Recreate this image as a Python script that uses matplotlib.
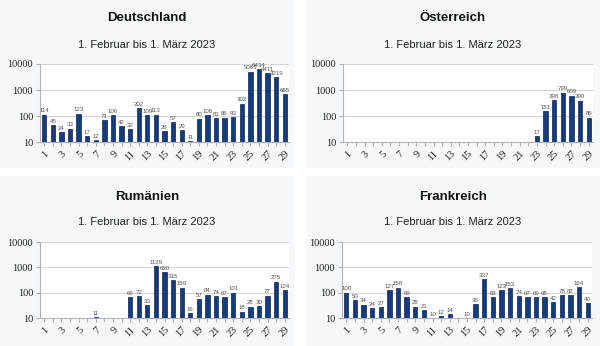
import numpy as np
import matplotlib
matplotlib.use('Agg')
import matplotlib.pyplot as plt
from matplotlib.patches import Rectangle

nan = np.nan
days = np.arange(1, 30)

## Values (nan = no entry)
deutschland = [114, 45, 24, 33, 123, 17, 12, 71, 106, 42, 32, 202, 109, 113, 26,
               57, 29, 11, 80, 108, 81, 86, 93, 302, 5063, 6434, 4411, 3219, 685]
oesterreich = [nan]*22 + [17, 151, 398, 799, 609, 390, 86]
rumaenien = [nan, nan, nan, nan, nan, nan, 11, nan, nan, nan, 69, 72, 33, 1129, 630,
             315, 159, 16, 57, 84, 74, 67, 101, 18, 28, 30, 77, 275, 124]
frankreich = [100, 50, 34, 24, 27, 127, 158, 69, 28, 21, 10, 12, 14, nan, 10,
              36, 337, 66, 123, 153, 74, 67, 69, 68, 42, 78, 82, 164, 40]

titles = ['Deutschland', 'Österreich', 'Rumänien', 'Frankreich']
subtitle = '1. Februar bis 1. März 2023'
series = [deutschland, oesterreich, rumaenien, frankreich]

W, H = 600, 346
fig = plt.figure(figsize=(W/100, H/100), dpi=100)

# panel boxes and axes boxes in pixels (x0, y0_top, x1, y1_top)
panels = [(0, 0, 294, 168), (306, 0, 600, 168), (0, 176, 294, 346), (306, 176, 600, 346)]
axboxes = [(40, 64, 289, 142), (343, 64, 593, 142), (40, 242, 289, 318), (342, 242, 592, 318)]
title_y = [(18, 45), (18, 45), (197, 222), (197, 222)]

bar_col = '#163c7e'
edge_col = '#0a2456'

for k in range(4):
    px0, py0, px1, py1 = panels[k]
    fig.patches.append(Rectangle((px0/W, 1-py1/H), (px1-px0)/W, (py1-py0)/H,
                                 transform=fig.transFigure, facecolor='#f6f7fb',
                                 edgecolor='none', zorder=-10))
    cx = (px0 + px1) / 2 / W
    ty, sy = title_y[k]
    fig.text(cx, 1-ty/H, titles[k], ha='center', va='center', fontsize=9.5,
             fontweight='bold', family='Liberation Sans', color='#111111')
    fig.text(cx, 1-sy/H, subtitle, ha='center', va='center', fontsize=8,
             family='Liberation Sans', color='#222222')

    ax0, ay0, ax1, ay1 = axboxes[k]
    ax = fig.add_axes([ax0/W, 1-ay1/H, (ax1-ax0)/W, (ay1-ay0)/H], zorder=1)
    ax.set_facecolor('white')
    vals = np.array(series[k], dtype=float)
    ax.bar(days, vals, width=0.5, color=bar_col, edgecolor=edge_col, linewidth=0.5, zorder=3)
    ax.set_yscale('log')
    ax.set_ylim(10, 10000)
    ax.set_xlim(0.5, 29.5)
    for d, v in zip(days, vals):
        if not np.isnan(v):
            ax.text(d, v*1.12, '%d' % v, ha='center', va='bottom', fontsize=4.4,
                    color='#555555', family='Liberation Sans', zorder=4)
    ax.set_yticks([10, 100, 1000, 10000])
    ax.set_yticklabels(['10', '100', '1000', '10000'], family='Liberation Serif', fontsize=7.5)
    ax.yaxis.set_minor_locator(matplotlib.ticker.NullLocator())
    ax.set_xticks(days)
    ax.set_xticklabels([str(d) if d % 2 == 1 else '' for d in days], rotation=45,
                       ha='right', rotation_mode='anchor', family='Liberation Serif', fontsize=7.5)
    ax.grid(axis='y', color='#d4d4d4', linewidth=0.7, zorder=0)
    for s in ['top', 'right']:
        ax.spines[s].set_visible(False)
    for s in ['left', 'bottom']:
        ax.spines[s].set_color('#b3b3b3')
        ax.spines[s].set_linewidth(0.8)
    ax.tick_params(axis='both', colors='#b3b3b3', length=3, width=0.8, labelcolor='#222222', pad=2)

fig.savefig('out.png', dpi=100)
